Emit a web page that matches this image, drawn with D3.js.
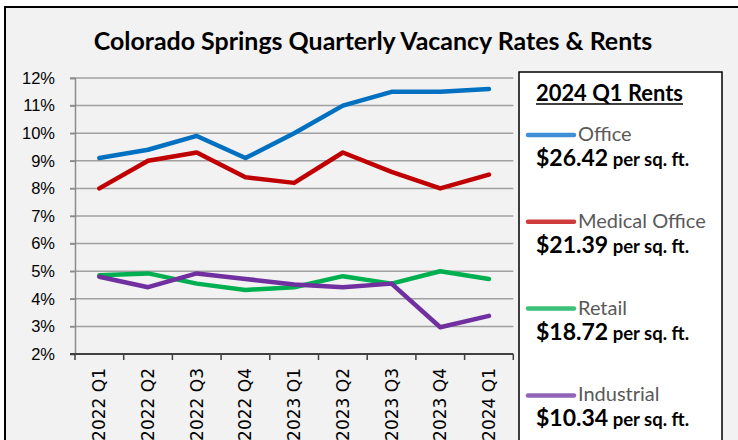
<!DOCTYPE html>
<html><head><meta charset="utf-8">
<script src="https://cdn.jsdelivr.net/npm/d3@7"></script>
<style>body{margin:0;background:#fff}svg{display:block}</style>
</head><body>
<svg id="c" width="738" height="440"></svg>
<script>
const categories = ["2022 Q1","2022 Q2","2022 Q3","2022 Q4","2023 Q1","2023 Q2","2023 Q3","2023 Q4","2024 Q1"];
const office     = [9.1, 9.4, 9.9, 9.1, 10.0, 11.0, 11.5, 11.5, 11.6];
const medical    = [8.0, 9.0, 9.3, 8.4, 8.2, 9.3, 8.6, 8.0, 8.5];
const retail     = [4.85, 4.92, 4.55, 4.32, 4.42, 4.82, 4.55, 5.0, 4.72];
const industrial = [4.8, 4.42, 4.92, 4.72, 4.52, 4.42, 4.55, 2.97, 3.38];
const seriesNames = ["Office","Medical Office","Retail","Industrial"];
const rents = ["$26.42","$21.39","$18.72","$10.34"];
const yTicks = [2,3,4,5,6,7,8,9,10,11,12];
const title = "Colorado Springs Quarterly Vacancy Rates & Rents";
const legendTitle = "2024 Q1 Rents";

const lineColors = ["#0070C0","#C00000","#00B050","#7030A0"];
const swatchColors = ["#3F8FD6","#D03C3C","#3CC07A","#9163B8"];
const data = [office, medical, retail, industrial];

const svg = d3.select("#c");
svg.append("rect").attr("x",5).attr("y",7).attr("width",760).attr("height",460)
  .attr("fill","#f2f2f2").attr("stroke","#000").attr("stroke-width",2);

// title
const t = svg.append("text").attr("x",373).attr("y",50).attr("text-anchor","middle")
  .attr("font-family","Lato, sans-serif").attr("font-weight","bold").attr("font-size",23)
  .attr("fill","#000").text(title);
let w = t.node().getComputedTextLength();
t.attr("font-size", 23*559/w);

const x = d3.scaleBand().domain(categories).range([75,513.3]);
const y = d3.scaleLinear().domain([2,12]).range([354,78]);

// gridlines
svg.append("g").selectAll("line").data(yTicks.filter(d=>d>2)).join("line")
  .attr("x1",70).attr("x2",513.3).attr("y1",d=>y(d)).attr("y2",d=>y(d))
  .attr("stroke","#a0a0a0").attr("stroke-width",1.5);

// y axis
const ya = svg.append("g").attr("transform","translate(75,0)")
  .call(d3.axisLeft(y).tickValues(yTicks).tickFormat(d=>d+"%").tickSize(5).tickPadding(15));
ya.select(".domain").attr("stroke","#8c8c8c").attr("stroke-width",1.5);
ya.selectAll(".tick line").attr("stroke","#8c8c8c").attr("stroke-width",1.5);
ya.selectAll("text").attr("font-family","'Liberation Sans', Arial, sans-serif").attr("font-size",16.5).attr("fill","#000");

// x axis
const xa = svg.append("g").attr("transform","translate(0,354)")
  .call(d3.axisBottom(x).tickSize(0).tickSizeOuter(0));
xa.select(".domain").attr("stroke","#404040").attr("stroke-width",2).attr("d","M70,0H513.3");
xa.selectAll(".tick text").attr("font-family","'DejaVu Sans', sans-serif").attr("font-size",17).attr("fill","#000")
  .attr("transform","rotate(-90)").attr("text-anchor","end").attr("dy","0.35em").attr("x",-14).attr("y",0);
const bounds = categories.map(c=>x(c)).concat([x.range()[1]]);
svg.append("g").selectAll("line").data(bounds).join("line")
  .attr("x1",d=>d).attr("x2",d=>d).attr("y1",354).attr("y2",360)
  .attr("stroke","#404040").attr("stroke-width",1.5);

// lines
const line = d3.line().x((d,i)=>x(categories[i])+x.bandwidth()/2).y(d=>y(d));
svg.append("g").selectAll("path").data(data).join("path")
  .attr("d",line).attr("fill","none").attr("stroke",(d,i)=>lineColors[i])
  .attr("stroke-width",4.5).attr("stroke-linecap","round").attr("stroke-linejoin","round");

// legend box
svg.append("rect").attr("x",519).attr("y",72).attr("width",203).attr("height",400)
  .attr("fill","#fff").attr("stroke","#000").attr("stroke-width",1.5);
const lt = svg.append("text").attr("x",536).attr("y",101)
  .attr("font-family","Lato, sans-serif").attr("font-weight","bold").attr("font-size",20)
  .attr("fill","#000").text(legendTitle);
w = lt.node().getComputedTextLength();
lt.attr("font-size",20*147/w);
svg.append("line").attr("x1",536).attr("x2",683).attr("y1",104).attr("y2",104).attr("stroke","#000").attr("stroke-width",1.5);

const lg = svg.append("g").selectAll("g").data(seriesNames).join("g")
  .attr("transform",(d,i)=>`translate(0,${135+i*86.8})`);
lg.append("line").attr("x1",528).attr("x2",574).attr("y1",0).attr("y2",0)
  .attr("stroke",(d,i)=>swatchColors[i]).attr("stroke-width",4.5).attr("stroke-linecap","round");
lg.append("text").attr("x",578).attr("y",6).attr("font-family","Lato, sans-serif").attr("font-size",20)
  .attr("fill","#595959").text(d=>d);
const vt = lg.append("text").attr("x",536).attr("y",31).attr("font-family","Lato, sans-serif").attr("font-weight","bold").attr("fill","#000");
vt.append("tspan").attr("font-size",23).text((d,i)=>rents[i]);
vt.append("tspan").attr("font-size",18.5).text(" per sq. ft.");
</script>
</body></html>
